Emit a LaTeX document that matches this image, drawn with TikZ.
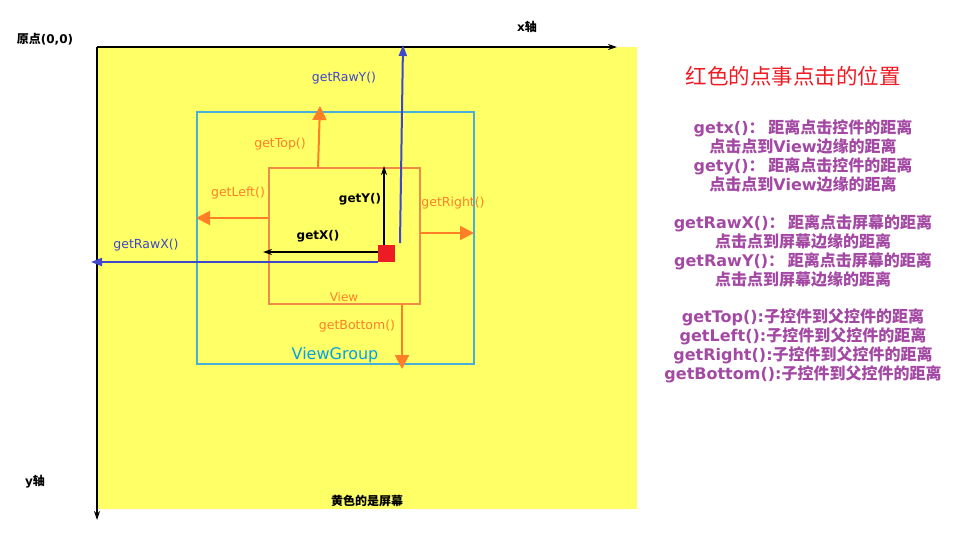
\documentclass[tikz,border=0pt]{standalone}
\usepackage{fontspec}
\setmainfont{DejaVu Sans}
\newfontfamily\cjk{Noto Sans CJK SC}
\usetikzlibrary{arrows.meta}
\definecolor{scr}{RGB}{255,255,102}
\definecolor{vgc}{RGB}{70,176,216}
\definecolor{vgt}{RGB}{0,162,232}
\definecolor{vwc}{RGB}{240,140,70}
\definecolor{orn}{RGB}{255,127,39}
\definecolor{blu}{RGB}{63,72,204}
\definecolor{rdd}{RGB}{237,28,36}
\definecolor{pur}{RGB}{163,73,164}
\tikzset{
  axis/.style={line width=2pt, -{Stealth[length=9pt,width=6pt]}},
  oarr/.style={orn, line width=2pt, -{Triangle[length=14pt,width=14pt]}},
  barr/.style={blu, line width=2pt, -{Triangle[length=11pt,width=8pt]}},
  karr/.style={black, line width=2pt, -{Stealth[length=9pt,width=6pt]}},
  olab/.style={orn, font=\fontsize{12.5}{14}\selectfont},
  blab/.style={blu, font=\fontsize{12.5}{14}\selectfont},
  klab/.style={black, font=\bfseries\fontsize{12}{14}\selectfont},
  axlab/.style={black, font=\bfseries\fontsize{12}{14}\selectfont},
  info/.style={pur, align=center, font=\bfseries\fontsize{16}{19}\selectfont},
}
\begin{document}
\begin{tikzpicture}[x=1pt,y=-1pt]
\useasboundingbox (0,0) rectangle (974,552);
% screen
\node[fill=scr, inner sep=0, minimum width=540pt, minimum height=462pt] (screen) at (367,278) {};
% view group
\node[draw=vgc, line width=2pt, inner sep=0, minimum width=277pt, minimum height=252pt] (vg) at (335.5,238) {};
% view
\node[draw=vwc, line width=2pt, inner sep=0, minimum width=151pt, minimum height=136pt] (view) at (344.5,236) {};
% red dot
\node[fill=rdd, inner sep=0, minimum size=17pt] (dot) at (386.5,253.5) {};
% axes
\coordinate (O) at (97,47);
\coordinate (xend) at (617,47);
\coordinate (yend) at (97,520);
\draw[axis] (O) -- (xend);
\draw[axis] (O) -- (yend);
\node[axlab] (orig) at (45,39) {{\cjk\bfseries 原点}(0,0)};
\node[axlab] (xl) at (527,27) {x{\cjk\bfseries 轴}};
\node[axlab] (yl) at (35,482) {y{\cjk\bfseries 轴}};
\node[axlab] (scl) at (367,501) {\cjk\bfseries 黄色的是屏幕};
% labels for boxes
\node[vgt, font=\fontsize{16}{19}\selectfont] (vgl) at (335,355) {ViewGroup};
\node[orn, font=\fontsize{12}{14}\selectfont] (vwl) at (344,297) {View};
% black arrows
\coordinate (gy0) at (384,245);
\coordinate (gy1) at (384,166);
\coordinate (gx0) at (378,252);
\coordinate (gx1) at (263,252);
\draw[karr] (gy0) -- (gy1);
\draw[karr] (gx0) -- (gx1);
\node[klab] (gyl) at (360,199) {getY()};
\node[klab] (gxl) at (318,236) {getX()};
% blue arrows
\coordinate (rx0) at (378,262);
\coordinate (rx1) at (91,262);
\coordinate (ry0) at (400,243);
\coordinate (ry1) at (403,45);
\draw[barr] (rx0) -- (rx1);
\draw[barr] (ry0) -- (ry1);
\node[blab] (rxl) at (146,245) {getRawX()};
\node[blab] (ryl) at (344,78) {getRawY()};
% orange arrows
\coordinate (t0) at (318,168);
\coordinate (t1) at (320,106);
\coordinate (l0) at (269,218);
\coordinate (l1) at (196,218);
\coordinate (r0) at (420,233);
\coordinate (r1) at (474,233);
\coordinate (b0) at (402,304);
\coordinate (b1) at (402,369);
\draw[oarr] (t0) -- (t1);
\draw[oarr] (l0) -- (l1);
\draw[oarr] (r0) -- (r1);
\draw[oarr] (b0) -- (b1);
\node[olab] (tl) at (280,144) {getTop()};
\node[olab] (ll) at (238,193) {getLeft()};
\node[olab] (rl) at (453,203) {getRight()};
\node[olab] (bl) at (357,326) {getBottom()};
% right side text
\node[rdd, font=\cjk\fontsize{21.5}{24}\selectfont] (title) at (793,76) {红色的点事点击的位置};
\node[info] (i1) at (803,155.5) {getx(){\cjk\bfseries ： 距离点击控件的距离}\\{\cjk\bfseries 点击点到}View{\cjk\bfseries 边缘的距离}\\gety(){\cjk\bfseries ： 距离点击控件的距离}\\{\cjk\bfseries 点击点到}View{\cjk\bfseries 边缘的距离}};
\node[info] (i2) at (803,250.5) {getRawX(){\cjk\bfseries ： 距离点击屏幕的距离}\\{\cjk\bfseries 点击点到屏幕边缘的距离}\\getRawY(){\cjk\bfseries ： 距离点击屏幕的距离}\\{\cjk\bfseries 点击点到屏幕边缘的距离}};
\node[info] (i3) at (803,345.5) {getTop():{\cjk\bfseries 子控件到父控件的距离}\\getLeft():{\cjk\bfseries 子控件到父控件的距离}\\getRight():{\cjk\bfseries 子控件到父控件的距离}\\getBottom():{\cjk\bfseries 子控件到父控件的距离}};
\end{tikzpicture}
\end{document}
